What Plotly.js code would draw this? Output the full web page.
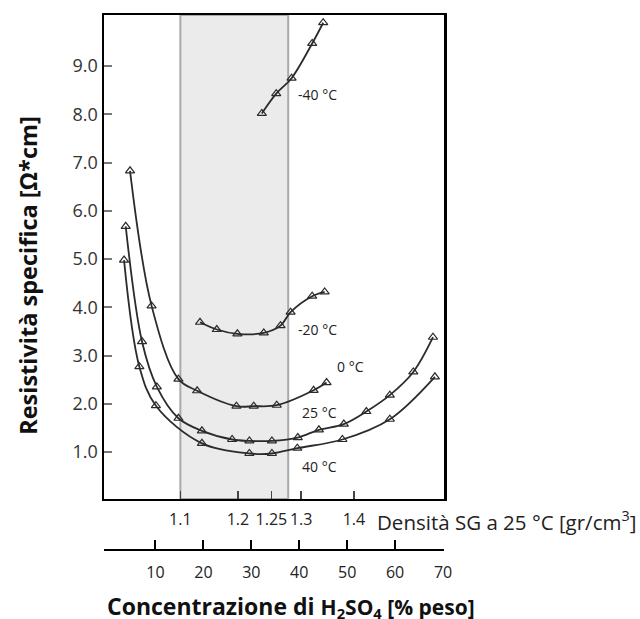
<!DOCTYPE html>
<html>
<head>
<meta charset="utf-8">
<script src="https://cdn.plot.ly/plotly-3.0.1.min.js"></script>
<style>html,body{margin:0;padding:0;background:#fff;}#chart{width:640px;height:619px;}</style>
</head>
<body>
<div id="chart"></div>
<script>
// Concentration of H2SO4 (% weight) and specific resistivity (ohm*cm)
const concM40 = [32.2, 35.2, 38.4, 42.7, 45.0];
const resM40  = [8.02, 8.43, 8.75, 9.47, 9.90];

const concM20 = [19.3, 22.8, 27.1, 32.6, 36.1, 38.2, 42.7, 45.3];
const resM20  = [3.69, 3.54, 3.45, 3.47, 3.62, 3.90, 4.23, 4.32];

const conc0 = [4.7, 9.2, 14.8, 18.7, 26.9, 30.5, 35.3, 43.0, 45.7];
const res0  = [6.83, 4.03, 2.51, 2.27, 1.95, 1.95, 1.97, 2.28, 2.44];

const conc25 = [3.8, 7.2, 10.3, 14.8, 19.7, 26.0, 29.6, 34.3, 39.7, 44.1, 49.3, 54.0, 58.9, 63.8, 67.9];
const res25  = [5.68, 3.29, 2.35, 1.70, 1.44, 1.26, 1.23, 1.23, 1.30, 1.46, 1.58, 1.84, 2.18, 2.66, 3.38];

const conc40 = [3.45, 6.65, 10.1, 19.7, 29.6, 34.3, 39.6, 49.0, 58.9, 68.3];
const res40  = [4.98, 2.77, 1.96, 1.18, 0.97, 0.97, 1.08, 1.26, 1.68, 2.56];

const seriesNames = ['-40 °C', '-20 °C', '0 °C', '25 °C', '40 °C'];
const labelX = [39.4, 39.4, 47.55, 40.24, 40.24];
const labelY = [8.42, 3.53, 2.78, 1.81, 0.69];

// density (SG at 25 °C) tick positions on the concentration scale
const densityPos  = [15.2, 27.2, 34.2, 40.4, 51.4];
const densityText = ['1.1', '1.2', '1.25', '1.3', '1.4'];
const concTicks = [10, 20, 30, 40, 50, 60, 70];
const resTicks = [1, 2, 3, 4, 5, 6, 7, 8, 9];
const shadeBand = [15.2, 37.7];

const FONT = 'Open Sans, DejaVu Sans, sans-serif';
const lineColor = '#2b2b2b';

// both x axes share the same concentration range, so a curve may use either
function curve(x, y, name, xa) {
  return {
    x: x, y: y, name: name, type: 'scatter', mode: 'lines+markers',
    xaxis: xa, yaxis: 'y',
    line: {color: lineColor, width: 1.8, shape: 'spline', smoothing: 1},
    marker: {symbol: 'triangle-up-open', size: 8, color: lineColor, line: {width: 1.2, color: lineColor}},
    showlegend: false, hoverinfo: 'x+y'
  };
}

const data = [
  curve(concM40, resM40, seriesNames[0], 'x'),
  curve(concM20, resM20, seriesNames[1], 'x'),
  curve(conc0, res0, seriesNames[2], 'x'),
  curve(conc25, res25, seriesNames[3], 'x2'),
  curve(conc40, res40, seriesNames[4], 'x2')
];

const xr = [-0.73, 70.2];
const annotations = seriesNames.map((n, i) => ({
  x: labelX[i], y: labelY[i], xref: 'x', yref: 'y', text: n, showarrow: false,
  xanchor: 'left', yanchor: 'middle', font: {family: FONT, size: 14, color: '#222'}
}));

annotations.push({
  x: 0.798, y: 0.0548, xref: 'paper', yref: 'paper', xanchor: 'left', yanchor: 'middle',
  text: 'Densità SG a 25 °C [gr/cm<sup>3</sup>]', showarrow: false,
  font: {family: FONT, size: 20.5, color: '#222'}
});
annotations.push({
  x: 0.551, y: -0.106, xref: 'paper', yref: 'paper', xanchor: 'center', yanchor: 'middle',
  text: '<b>Concentrazione di <span style="font-size:21px">H<sub>2</sub>SO<sub>4</sub> [% peso]</span></b>',
  showarrow: false, font: {family: FONT, size: 23, color: '#111'}
});
annotations.push({
  x: -0.224, y: 0.514, xref: 'paper', yref: 'paper', xanchor: 'center', yanchor: 'middle',
  text: '<b>Resistività specifica [Ω*cm]</b>', textangle: -90, showarrow: false,
  font: {family: FONT, size: 23.5, color: '#111'}
});

const layout = {
  width: 640, height: 619,
  margin: {l: 104, r: 196, t: 15, b: 69},
  paper_bgcolor: '#fff', plot_bgcolor: '#fff',
  showlegend: false,
  xaxis: {
    domain: [0, 1], range: xr, anchor: 'y',
    showline: true, linecolor: '#000', linewidth: 2, mirror: true,
    ticks: 'inside', ticklen: 8, tickwidth: 1.5, tickcolor: '#444',
    tickvals: densityPos, ticktext: densityText,
    tickfont: {family: FONT, size: 16, color: '#222'},
    ticklabelstandoff: 5,
    showgrid: false, zeroline: false
  },
  xaxis2: {
    overlaying: 'x', anchor: 'free', position: 0, side: 'bottom', range: xr,
    showline: true, linecolor: '#000', linewidth: 2,
    ticks: 'inside', ticklen: 9, tickwidth: 2, tickcolor: '#000',
    tickvals: concTicks,
    tickfont: {family: FONT, size: 16, color: '#222'},
    ticklabelstandoff: 8,
    showgrid: false, zeroline: false
  },
  yaxis: {
    domain: [0.0953, 1], range: [0.026, 10.06], anchor: 'x',
    showline: true, linecolor: '#000', linewidth: 2.5, mirror: true,
    ticks: 'inside', ticklen: 8, tickwidth: 2, tickcolor: '#777',
    tickvals: resTicks, tickformat: '.1f',
    tickfont: {family: FONT, size: 18, color: '#333'},
    showgrid: false, zeroline: false
  },
  shapes: [{
    type: 'rect', xref: 'x', yref: 'y domain', x0: shadeBand[0], x1: shadeBand[1], y0: 0, y1: 1,
    fillcolor: '#ebebeb', line: {color: '#a9a9a9', width: 2}, layer: 'below'
  }],
  annotations: annotations
};

Plotly.newPlot('chart', data, layout, {staticPlot: true, displayModeBar: false});
</script>
</body>
</html>
